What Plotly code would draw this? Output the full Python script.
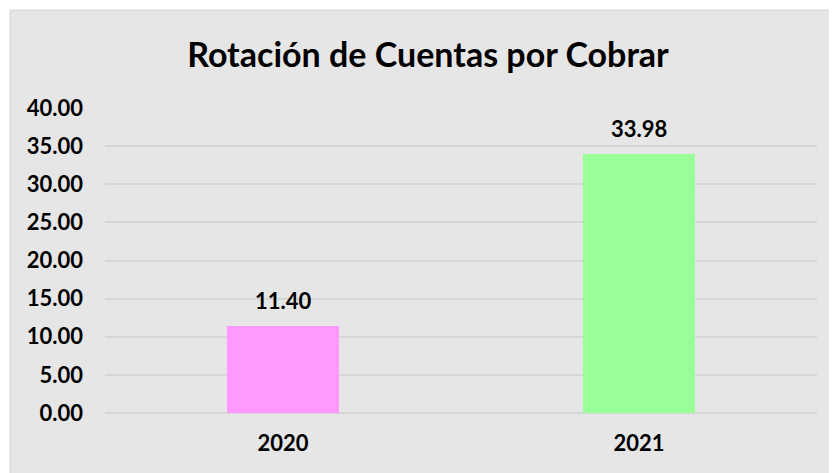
import plotly.graph_objs as go

years = ['2020', '2021']
rotacion = [11.40, 33.98]
bar_colors = ['#ff99ff', '#99ff99']
y_ticks = [0, 5, 10, 15, 20, 25, 30, 35, 40]

font_family = 'Lato, Calibri, sans-serif'

fig = go.Figure(
    go.Bar(
        x=years,
        y=rotacion,
        marker=dict(color=bar_colors, line=dict(width=0)),
        width=0.315,
        hoverinfo='skip',
    )
)

# value labels above the bars (category axis -> use the index)
for i, val in enumerate(rotacion):
    fig.add_annotation(
        x=i, y=val, text='<b>%.2f</b>' % val,
        showarrow=False, yanchor='bottom', yshift=10,
        font=dict(family=font_family, size=22, color='black'),
    )

# grey chart area with thin border (Excel-like)
fig.add_shape(
    type='rect', xref='paper', yref='paper', layer='below',
    x0=-0.1334, x1=1.05, y0=-0.3, y1=1.321,
    fillcolor='#e6e6e6', line=dict(color='#d4d4d4', width=1),
)

# page body has an 8px margin, so shrink the figure by that much
fig.update_layout(
    width=829, height=465,
    margin=dict(l=97, r=20, t=100, b=60),
    paper_bgcolor='white',
    plot_bgcolor='rgba(0,0,0,0)',
    showlegend=False,
    bargap=0,
    title=dict(
        text='<b>Rotación de Cuentas por Cobrar</b>',
        x=420 / 829, xref='container', xanchor='center',
        y=1 - 47 / 465, yref='container', yanchor='middle',
        font=dict(family=font_family, size=34, color='black'),
    ),
    font=dict(family=font_family, color='black'),
)

fig.update_yaxes(
    range=[0, 40], tickvals=y_ticks,
    ticktext=['<b>%.2f</b>' % v for v in y_ticks],
    tickfont=dict(family=font_family, size=22, color='black'),
    showgrid=True, gridcolor='#d6d6d6', gridwidth=1.5,
    zeroline=True, zerolinecolor='#d6d6d6', zerolinewidth=1.5,
    ticks='', ticklabelstandoff=21, showline=False, automargin=False,
)
fig.update_xaxes(
    type='category', range=[-0.5, 1.5],
    tickvals=years, ticktext=['<b>%s</b>' % y for y in years],
    tickfont=dict(family=font_family, size=22, color='black'),
    ticks='', ticklabelstandoff=15, showline=False, showgrid=False,
    automargin=False,
)

fig.write_html("out.html")
